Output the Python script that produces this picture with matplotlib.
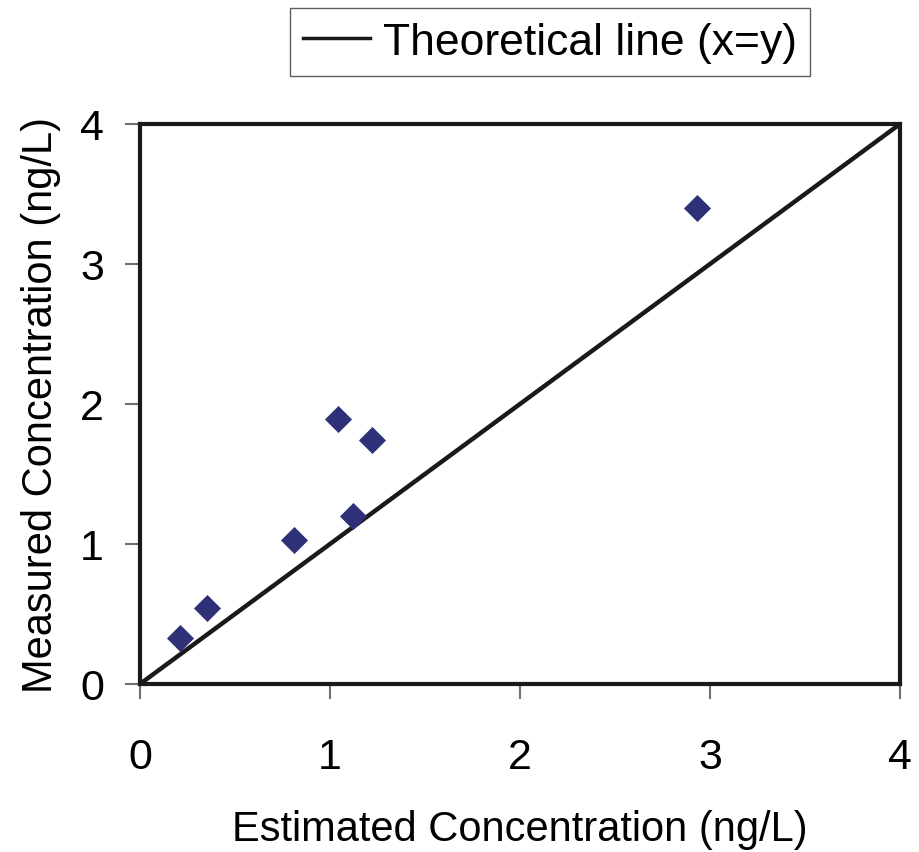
import matplotlib
matplotlib.use("Agg")
import matplotlib.pyplot as plt
import numpy as np

plt.rcParams['font.family'] = ['Liberation Sans', 'DejaVu Sans']

estimated = [0.21, 0.35, 0.81, 1.04, 1.12, 1.22, 2.93]
measured = [0.33, 0.54, 1.03, 1.89, 1.20, 1.74, 3.40]
line_x = [0, 4]
line_y = [0, 4]
ticks = [0, 1, 2, 3, 4]

fig = plt.figure(figsize=(9.2, 8.53), dpi=100)
ax = fig.add_axes([140/920, 1-685/853, 760/920, 560/853])

ax.scatter(estimated, measured, marker='D', s=190, color='#2e3078', zorder=3, linewidths=0)
ln, = ax.plot(line_x, line_y, color='#1a1a1a', lw=3.2, zorder=2, label='Theoretical line (x=y)')

ax.set_xlim(0, 4)
ax.set_ylim(0, 4)
ax.set_xticks(ticks)
ax.set_yticks(ticks)
ax.tick_params(direction='out', length=11, width=1.5, color='#707070', labelsize=31)
ax.tick_params(axis='x', pad=27)
ax.tick_params(axis='y', pad=15)
for s in ax.spines.values():
    s.set_linewidth(3)
    s.set_color('#1a1a1a')

ax.set_xlabel('Estimated Concentration (ng/L)', fontsize=30, labelpad=23)
ax.set_ylabel('Measured Concentration (ng/L)', fontsize=30, labelpad=14)

leg = fig.legend(handles=[ln], loc='center', bbox_to_anchor=(550/920, 1-43/853),
                 fontsize=32, frameon=True, fancybox=False, edgecolor='#333333',
                 handlelength=1.5, handletextpad=0.3, borderpad=0.3)
leg.get_frame().set_linewidth(1.0)
leg.get_lines()[0].set_linewidth(2.5)

fig.savefig('out.png', dpi=100, facecolor='white')
